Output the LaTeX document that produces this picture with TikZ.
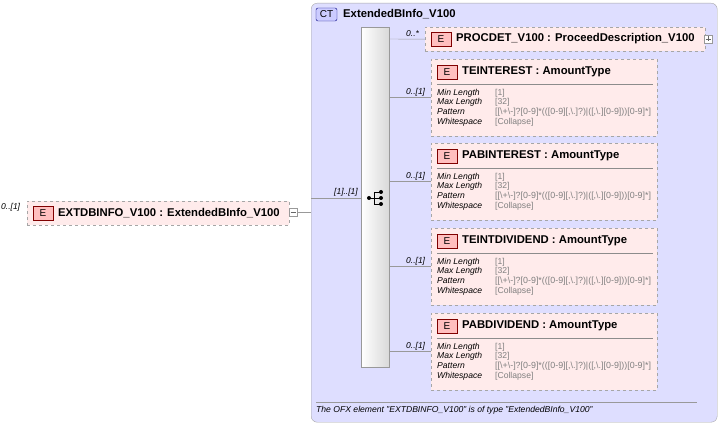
\documentclass[tikz,border=0pt]{standalone}
\usepackage{fontspec}
\setmainfont{Liberation Sans}
\begin{document}
\begin{tikzpicture}[x=1pt,y=-1pt,
  elbox/.style={draw=black!35,dashed,fill=red!8},
  ebadge/.style={draw=red!50!black,fill=red!25,minimum width=20pt,minimum height=14pt,inner sep=0pt,font=\fontsize{10}{11}\selectfont},
  ttl/.style={anchor=west,inner sep=0pt,font=\bfseries\fontsize{11.3}{12}\selectfont},
  card/.style={anchor=south west,inner sep=1pt,font=\itshape\fontsize{8.5}{9}\selectfont},
  rowk/.style={anchor=west,inner sep=0pt,font=\itshape\fontsize{8.6}{9}\selectfont},
  rowv/.style={anchor=west,inner sep=0pt,text=black!50,font=\fontsize{8.6}{9}\selectfont},
  conn/.style={draw=black!40},
  pm/.style={draw=black!40,fill=white,minimum size=8pt,inner sep=0pt}]
\useasboundingbox (0,0) rectangle (721,425);
% CT box
\node[draw=black!35,fill=blue!13,rounded corners=6pt,minimum width=406pt,minimum height=419pt,anchor=north west,inner sep=0pt] (ct) at (311,3) {};
\node[draw=blue!50!black,fill=blue!20,rounded corners=2pt,minimum width=21pt,minimum height=13pt,inner sep=0pt,font=\fontsize{10}{11}\selectfont] (ctb) at (326.5,14.5) {CT};
\node[ttl] (ctt) at (343,14) {ExtendedBInfo\_V100};
% sequence bar
\node[draw=black!40,left color=white,right color=black!15,minimum width=28pt,minimum height=340pt,anchor=north west,inner sep=0pt] (seq) at (361,27) {};
\node[inner sep=0pt] (ic) at (376,198) {};
\fill (369,198) circle (2);
\draw[thick] (369,198) -- (374,198) (374,192) -- (374,204) (374,192) -- (380,192) (374,198) -- (380,198) (374,204) -- (380,204);
\fill (381,192) circle (2) (381,198) circle (2) (381,204) circle (2);
% left element
\node[elbox,minimum width=262pt,minimum height=24pt,anchor=north west,inner sep=0pt] (root) at (27,201) {};
\node[ebadge] (rb) at (43,213) {E};
\node[ttl] (rt) at (58,213) {EXTDBINFO\_V100 : ExtendedBInfo\_V100};
\node[card,anchor=south west] at (0,212) {0..[1]};
\node[pm] (rm) at (293,212) {};
\draw[black!60] (290.5,212) -- (295.5,212);
\coordinate (j) at (311,212);
\draw[conn] (rm) -- (j);
\draw[conn] (311,198) -- (seq.west|-ic) ;
\node[card,anchor=south east] at (359,197) {[1]..[1]};
% PROCDET
\node[elbox,minimum width=280pt,minimum height=24pt,anchor=north west,inner sep=0pt] (pr) at (425,27) {};
\node[ebadge] at (441,39) {E};
\node[ttl] at (456,39) {PROCDET\_V100 : ProceedDescription\_V100};
\node[pm] (pp) at (708,39) {};
\draw[black!60] (705.5,39) -- (710.5,39) (708,36.5) -- (708,41.5);
\draw[conn] (389,39) -- (pr.west);
\node[card,anchor=south west] at (405,38) {0..*};
% children
\foreach \n/\t/\y/\c in {a/TEINTEREST/59/97,b/PABINTEREST/143/181,c/TEINTDIVIDEND/228/266,d/PABDIVIDEND/313/351}{
  \node[elbox,minimum width=226pt,minimum height=77pt,anchor=north west,inner sep=0pt] (\n) at (431,\y) {};
  \node[ebadge] at (447,\y+13) {E};
  \node[ttl] at (462,\y+13) {\t\ : AmountType};
  \draw[black!45] (437,\y+25) -- (653,\y+25);
  \node[rowk] at (437,\y+34) {Min Length};
  \node[rowk] at (437,\y+43) {Max Length};
  \node[rowk] at (437,\y+53) {Pattern};
  \node[rowk] at (437,\y+63) {Whitespace};
  \node[rowv] at (495,\y+34) {[1]};
  \node[rowv] at (495,\y+43) {[32]};
  \node[rowv,font=\fontsize{8.9}{9}\selectfont] at (495,\y+53) {[[\textbackslash+\textbackslash-]?[0-9]*(([0-9][,\textbackslash.]?)|([,\textbackslash.][0-9]))[0-9]*]};
  \node[rowv] at (495,\y+63) {[Collapse]};
  \draw[conn] (389,\c) -- (431,\c);
  \node[card,anchor=south west] at (405,\c) {0..[1]};
}
% footer
\draw[black!40] (316,402) -- (697,402);
\node[anchor=west,inner sep=0pt,font=\itshape\fontsize{8.6}{9}\selectfont] (ft) at (316,410) {The OFX element "EXTDBINFO\_V100" is of type "ExtendedBInfo\_V100"};
\end{tikzpicture}
\end{document}
